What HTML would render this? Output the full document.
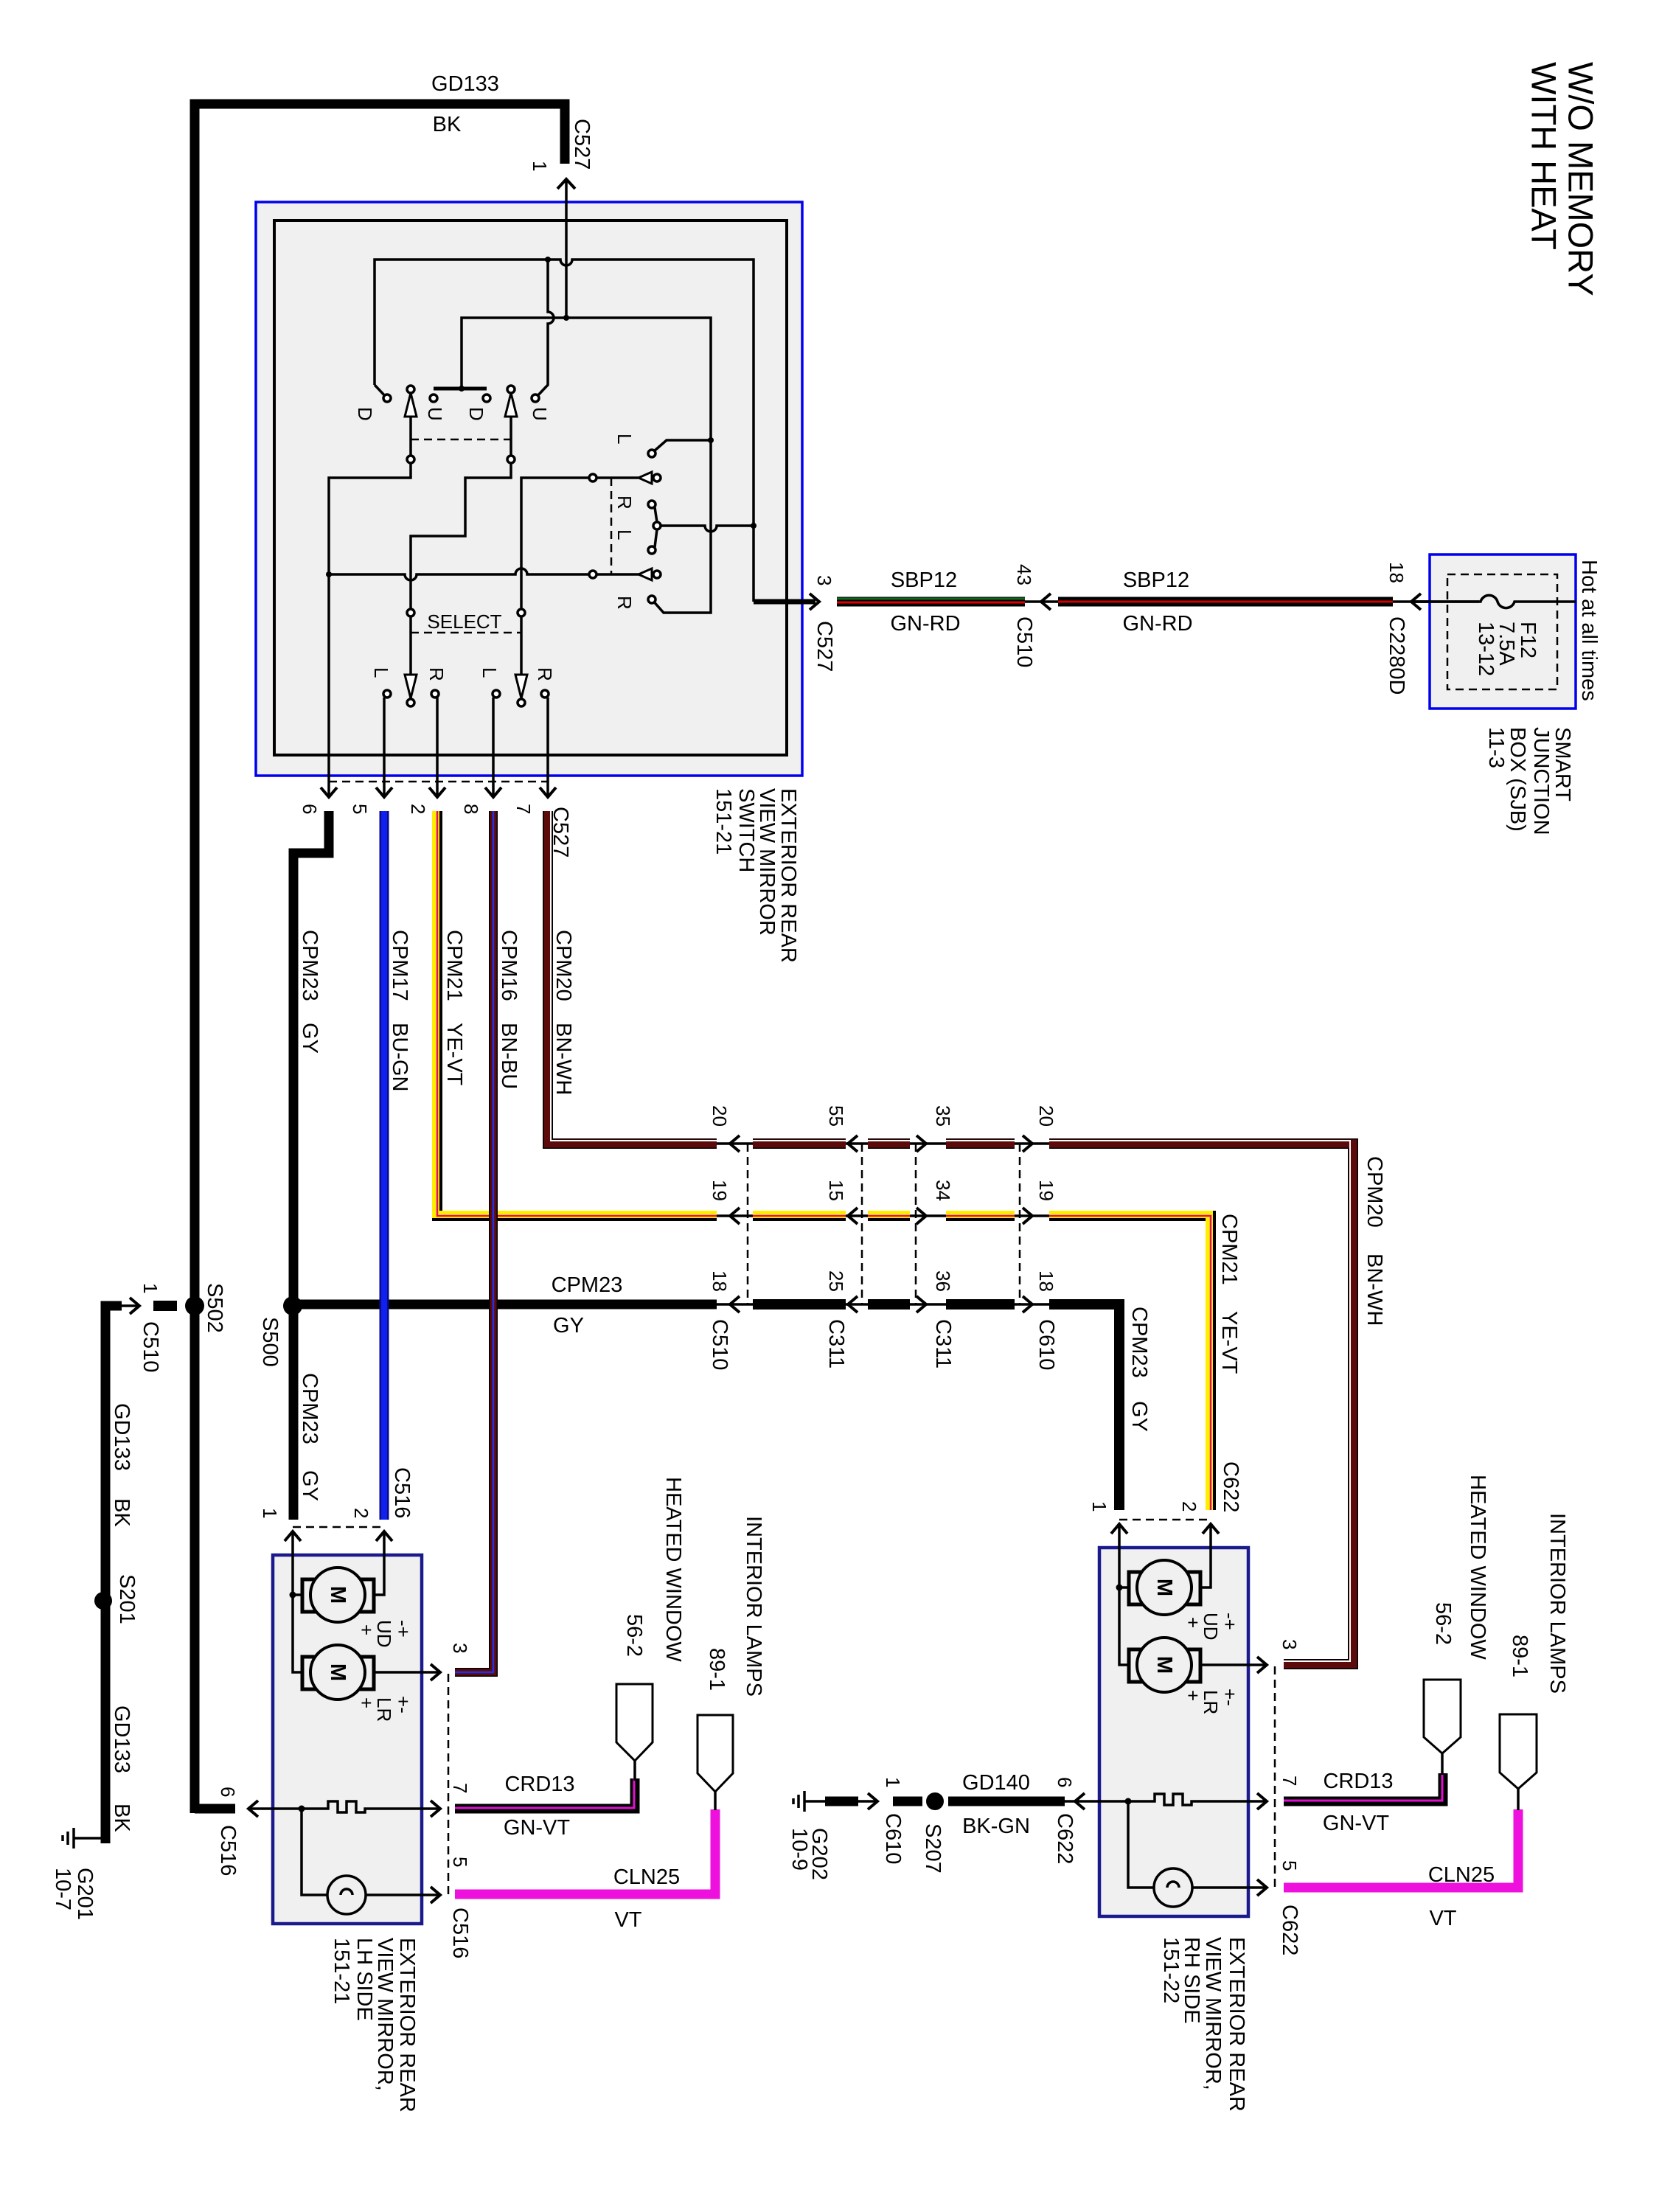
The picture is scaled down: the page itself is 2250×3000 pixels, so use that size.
<!DOCTYPE html>
<html><head><meta charset="utf-8"><style>
html,body{margin:0;padding:0;background:#fff}
svg{display:block}
text{font-family:"Liberation Sans",Arial,sans-serif;fill:#000;dominant-baseline:central}
.t{font-size:29px}.s{font-size:26px}.b{font-size:47px}
.w{fill:none;stroke-linejoin:miter;stroke-linecap:butt}
.th{fill:none;stroke:#000;stroke-width:3.5}
.ch{fill:none;stroke:#000;stroke-width:4}
.dash{fill:none;stroke:#000;stroke-width:2.5;stroke-dasharray:11 7}
.ct{fill:#fff;stroke:#000;stroke-width:3}
</style></head><body>
<svg width="2250" height="3000" viewBox="0 0 2250 3000" xmlns="http://www.w3.org/2000/svg">
<rect width="2250" height="3000" fill="#fff"/>
<defs>
<g id="mir">
<rect x="370" y="2109" width="202" height="500" fill="#f0f0f0" stroke="#1a1a8c" stroke-width="4.5"/>
<path class="dash" d="M397,2071 H521"/>
<path class="ch" d="M386,2090 L397,2077 L408,2090 M510,2090 L521,2077 L532,2090"/>
<path class="th" d="M397,2077 V2268 H410 M397,2163 H410 M521,2077 V2163 H507 M507,2268 H596"/>
<circle cx="397" cy="2163" r="4.5"/>
<path fill="none" stroke="#000" stroke-width="5" d="M410,2142 V2186 H507 V2142 Z M410,2247 V2291 H507 V2247 Z"/>
<circle cx="458" cy="2163" r="37" fill="#f0f0f0" stroke="#000" stroke-width="4"/>
<circle cx="458" cy="2268" r="37" fill="#f0f0f0" stroke="#000" stroke-width="4"/>
<text class="t" font-weight="bold" transform="translate(458 2163) rotate(90)" text-anchor="middle">M</text>
<text class="t" font-weight="bold" transform="translate(458 2268) rotate(90)" text-anchor="middle">M</text>
<text class="s" transform="translate(521 2197) rotate(90)">UD</text>
<text class="s" transform="translate(547 2197) rotate(90)">-+</text>
<text class="s" transform="translate(497 2203) rotate(90)">+</text>
<text class="s" transform="translate(521 2302) rotate(90)">LR</text>
<text class="s" transform="translate(547 2300) rotate(90)">+-</text>
<text class="s" transform="translate(497 2302) rotate(90)">+</text>
<path class="th" d="M338,2453 H445 V2443 H458 V2458 H470 V2443 H483 V2458 H495 V2453 H596 M409,2453 V2570 H444 M496,2570 H596"/>
<circle cx="409" cy="2453" r="4.5"/>
<circle cx="470" cy="2570" r="26" fill="#f0f0f0" stroke="#000" stroke-width="3.5"/>
<path class="th" d="M462,2570 a8,8 0 1 1 16,0"/>
<path class="ch" d="M350,2442 L337,2453 L350,2464 M584,2257 L597,2268 L584,2279 M584,2442 L597,2453 L584,2464 M584,2559 L597,2570 L584,2581"/>
<path class="dash" d="M608,2270 V2572"/>
</g>
</defs>

<!-- top ground wire -->
<path class="w" stroke="#000" stroke-width="13" d="M264,2459 V141 H766 V222"/>
<text class="t" x="631" y="114" text-anchor="middle">GD133</text>
<text class="t" x="606" y="169" text-anchor="middle">BK</text>
<text class="t" transform="translate(789 161) rotate(90)">C527</text>
<text class="s" transform="translate(732 218) rotate(90)">1</text>
<path class="ch" d="M756,256 L768,243 L780,256"/>

<!-- switch boxes -->
<rect x="347" y="274" width="741" height="778" fill="#f0f0f0" stroke="#0000ee" stroke-width="3.5"/>
<rect x="372" y="299" width="695" height="725" fill="none" stroke="#000" stroke-width="4"/>

<!-- internal switch wiring -->
<path class="th" d="M768,243 V431"/>
<path class="th" d="M508,522 V352 H760 a8,8 0 0 0 16,0 H1022 V816"/>
<path class="th" d="M508,522 L525,540"/>
<path class="th" d="M743,352 V423 a8,8 0 0 1 0,16 V522 L726,540"/>
<circle cx="743" cy="352" r="4"/><circle cx="768" cy="431" r="4"/>
<path class="th" d="M626,527 V431 H964 V831 H900 L884,813"/>
<path fill="none" stroke="#000" stroke-width="5" d="M588,527 H660"/>
<circle cx="626" cy="527" r="4"/>
<g fill="#fff" stroke="#000" stroke-width="3.5">
<circle cx="525" cy="540" r="5"/><circle cx="588" cy="540" r="5"/><circle cx="660" cy="540" r="5"/><circle cx="726" cy="540" r="5"/>
<circle cx="557" cy="528" r="5"/><circle cx="693" cy="528" r="5"/>
<circle cx="557" cy="623" r="5"/><circle cx="693" cy="623" r="5"/>
</g>
<path fill="#fff" stroke="#000" stroke-width="3" d="M557,533 L549,565 H565 Z M693,533 L685,565 H701 Z"/>
<path class="th" d="M557,565 V618 M693,565 V618"/>
<path class="dash" d="M557,596 H693"/>
<text class="s" transform="translate(495 552) rotate(90)">D</text>
<text class="s" transform="translate(590 552) rotate(90)">U</text>
<text class="s" transform="translate(646 552) rotate(90)">D</text>
<text class="s" transform="translate(732 552) rotate(90)">U</text>

<path class="th" d="M557,628 V648 H446 V1078"/>
<path class="th" d="M693,628 V648 H631 V727 H557 V826"/>
<path class="th" d="M446,779 H549 a8,8 0 0 0 16,0 H699 a8,8 0 0 1 16,0 H799"/>
<circle cx="446" cy="779" r="4"/>
<path class="th" d="M707,826 V648 H799"/>
<g fill="#fff" stroke="#000" stroke-width="3.5">
<circle cx="804" cy="648" r="5"/><circle cx="804" cy="779" r="5"/>
<circle cx="891" cy="648" r="5"/><circle cx="891" cy="779" r="5"/>
<circle cx="884" cy="615" r="5"/><circle cx="884" cy="684" r="5"/><circle cx="891" cy="713" r="5"/><circle cx="884" cy="746" r="5"/><circle cx="884" cy="813" r="5"/>
<circle cx="557" cy="831" r="5"/><circle cx="707" cy="831" r="5"/>
<circle cx="557" cy="953" r="5"/><circle cx="707" cy="953" r="5"/>
<circle cx="525" cy="941" r="5"/><circle cx="590" cy="941" r="5"/><circle cx="673" cy="941" r="5"/><circle cx="739" cy="941" r="5"/>
</g>
<path fill="#fff" stroke="#000" stroke-width="3" d="M866,648 L884,640 V656 Z M866,779 L884,771 V787 Z"/>
<path class="th" d="M809,648 H866 M809,779 H866"/>
<path class="dash" d="M829,648 V779"/>
<path class="th" d="M888,611 L904,597 H964"/>
<path class="th" d="M888,688 L891,708 M891,718 L888,742"/>
<path class="th" d="M896,713 H956 a8,8 0 0 0 16,0 H1022"/>
<circle cx="964" cy="597" r="4"/><circle cx="1022" cy="713" r="4"/>
<text class="s" transform="translate(847 588) rotate(90)">L</text>
<text class="s" transform="translate(847 672) rotate(90)">R</text>
<text class="s" transform="translate(847 718) rotate(90)">L</text>
<text class="s" transform="translate(847 808) rotate(90)">R</text>
<text class="s" x="630" y="843" text-anchor="middle">SELECT</text>
<path class="dash" d="M557,858 H707" stroke-dasharray="14 8 110 8"/>
<path class="th" d="M557,836 V920 M707,836 V920"/>
<path fill="#fff" stroke="#000" stroke-width="3" d="M557,947 L549,915 H565 Z M707,947 L699,915 H715 Z"/>
<text class="s" transform="translate(517 905) rotate(90)">L</text>
<text class="s" transform="translate(592 905) rotate(90)">R</text>
<text class="s" transform="translate(664 905) rotate(90)">L</text>
<text class="s" transform="translate(739 905) rotate(90)">R</text>
<path class="th" d="M521,946 V1078 M593,946 V1078 M669,946 V1078 M743,946 V1078"/>
<path class="dash" d="M446,1060 H743"/>
<path class="ch" d="M435,1068 L446,1081 L457,1068 M510,1068 L521,1081 L532,1068 M582,1068 L593,1081 L604,1068 M658,1068 L669,1081 L680,1068 M732,1068 L743,1081 L754,1068"/>
<text class="s" transform="translate(420 1090) rotate(90)">6</text>
<text class="s" transform="translate(488 1090) rotate(90)">5</text>
<text class="s" transform="translate(567 1090) rotate(90)">2</text>
<text class="s" transform="translate(639 1090) rotate(90)">8</text>
<text class="s" transform="translate(710 1090) rotate(90)">7</text>
<text class="t" transform="translate(760 1094) rotate(90)">C527</text>
<text class="t" transform="translate(1069 1069) rotate(90)">EXTERIOR REAR</text>
<text class="t" transform="translate(1040 1069) rotate(90)">VIEW MIRROR</text>
<text class="t" transform="translate(1012 1069) rotate(90)">SWITCH</text>
<text class="t" transform="translate(981 1069) rotate(90)">151-21</text>

<!-- SBP wire -->
<path class="w" stroke="#000" stroke-width="7" d="M1022,816 H1106"/>
<path class="ch" d="M1098,805 L1111,816 L1098,827"/>
<path class="w" stroke="#000" stroke-width="13" d="M1135,816 H1390"/>
<path class="w" stroke="#0a6a20" stroke-width="3" d="M1135,812 H1390"/>
<path class="w" stroke="#e00000" stroke-width="3" d="M1135,817 H1390"/>
<path class="w" stroke="#000" stroke-width="13" d="M1435,816 H1889"/>
<path class="w" stroke="#d00000" stroke-width="3" d="M1435,816 H1889"/>
<path class="th" d="M1390,816 H1435 M1889,816 H2137"/>
<path class="ch" d="M1425,805 L1412,816 L1425,827 M1927,805 L1914,816 L1927,827"/>
<text class="s" transform="translate(1118 780) rotate(90)">3</text>
<text class="t" transform="translate(1118 842) rotate(90)">C527</text>
<text class="t" x="1253" y="787" text-anchor="middle">SBP12</text>
<text class="t" x="1255" y="846" text-anchor="middle">GN-RD</text>
<text class="s" transform="translate(1389 765) rotate(90)">43</text>
<text class="t" transform="translate(1389 836) rotate(90)">C510</text>
<text class="t" x="1568" y="787" text-anchor="middle">SBP12</text>
<text class="t" x="1570" y="846" text-anchor="middle">GN-RD</text>
<text class="s" transform="translate(1894 762) rotate(90)">18</text>
<text class="t" transform="translate(1894 836) rotate(90)">C2280D</text>

<!-- SJB -->
<rect x="1939" y="752" width="198" height="209" fill="#f0f0f0" stroke="#0000ee" stroke-width="3.5"/>
<rect x="1963" y="779" width="149" height="156" class="dash"/>
<path class="th" d="M1914,816 H2008 a12,12 0 0 1 23,0 a12,12 0 0 0 23,0 H2137"/>
<path class="th" d="M1914,816 H2006" stroke="#f0f0f0" stroke-width="0"/>
<text class="t" transform="translate(2072 843) rotate(90)">F12</text>
<text class="t" transform="translate(2043 843) rotate(90)">7.5A</text>
<text class="t" transform="translate(2015 843) rotate(90)">13-12</text>
<text class="t" transform="translate(2155 759) rotate(90)">Hot at all times</text>
<text class="t" transform="translate(2119 986) rotate(90)">SMART</text>
<text class="t" transform="translate(2090 986) rotate(90)">JUNCTION</text>
<text class="t" transform="translate(2058 986) rotate(90)">BOX (SJB)</text>
<text class="t" transform="translate(2029 986) rotate(90)">11-3</text>
<text class="b" transform="translate(2144 84) rotate(90)">W/O MEMORY</text>
<text class="b" transform="translate(2094 84) rotate(90)">WITH HEAT</text>

<!-- harness wires from switch -->
<path class="w" stroke="#000" stroke-width="13" d="M446,1100 V1157 H398 V2061"/>
<path class="w" stroke="#000" stroke-width="13" d="M397,1769 H972"/>
<path class="w" stroke="#0a0a8a" stroke-width="13" d="M521,1100 V2061"/>
<path class="w" stroke="#1020ee" stroke-width="8" d="M521,1100 V2061"/>
<path class="w" stroke="#000" stroke-width="14" d="M593,1100 V1649 H972"/>
<path class="w" stroke="#ffee00" stroke-width="10" d="M591,1100 V1647 H972"/>
<path class="w" stroke="#e0106a" stroke-width="2.5" d="M593,1100 V1649 H972"/>
<path class="w" stroke="#000" stroke-width="12" d="M669,1100 V2268 H617"/>
<path class="w" stroke="#5c0a0a" stroke-width="9" d="M669,1100 V2268 H617"/>
<path class="w" stroke="#2030ee" stroke-width="2.5" d="M669,1100 V2268 H617"/>
<path class="w" stroke="#000" stroke-width="14" d="M743,1100 V1551 H972"/>
<path class="w" stroke="#5c0a0a" stroke-width="11" d="M743,1100 V1551 H972"/>
<path class="w" stroke="#fff" stroke-width="2" d="M747,1100 V1547 H972"/>
<text class="t" transform="translate(420 1261) rotate(90)">CPM23</text><text class="t" transform="translate(420 1387) rotate(90)">GY</text>
<text class="t" transform="translate(542 1261) rotate(90)">CPM17</text><text class="t" transform="translate(542 1387) rotate(90)">BU-GN</text>
<text class="t" transform="translate(616 1261) rotate(90)">CPM21</text><text class="t" transform="translate(616 1387) rotate(90)">YE-VT</text>
<text class="t" transform="translate(690 1261) rotate(90)">CPM16</text><text class="t" transform="translate(690 1387) rotate(90)">BN-BU</text>
<text class="t" transform="translate(764 1261) rotate(90)">CPM20</text><text class="t" transform="translate(764 1387) rotate(90)">BN-WH</text>

<!-- in-line connectors rows -->
<path class="th" d="M972,1551 H1021 M972,1649 H1021 M972,1769 H1021 M1147,1551 H1177 M1147,1649 H1177 M1147,1769 H1177 M1234,1551 H1283 M1234,1649 H1283 M1234,1769 H1283 M1376,1551 H1423 M1376,1649 H1423 M1376,1769 H1423"/>
<path class="w" stroke="#000" stroke-width="14" d="M1021,1551 H1147 M1177,1551 H1234 M1283,1551 H1376"/>
<path class="w" stroke="#5c0a0a" stroke-width="11" d="M1021,1551 H1147 M1177,1551 H1234 M1283,1551 H1376"/>
<path class="w" stroke="#fff" stroke-width="2" d="M1021,1547 H1147 M1177,1547 H1234 M1283,1547 H1376"/>
<path class="w" stroke="#000" stroke-width="14" d="M1021,1649 H1147 M1177,1649 H1234 M1283,1649 H1376"/>
<path class="w" stroke="#ffee00" stroke-width="10" d="M1021,1647 H1147 M1177,1647 H1234 M1283,1647 H1376"/>
<path class="w" stroke="#e0106a" stroke-width="2.5" d="M1021,1649 H1147 M1177,1649 H1234 M1283,1649 H1376"/>
<path class="w" stroke="#000" stroke-width="14" d="M1021,1769 H1147 M1177,1769 H1234 M1283,1769 H1376"/>
<path class="dash" d="M1014,1551 V1769 M1169,1551 V1769 M1242,1551 V1769 M1383,1551 V1769"/>
<path class="ch" d="M1003,1540 L990,1551 L1003,1562 M1003,1638 L990,1649 L1003,1660 M1003,1758 L990,1769 L1003,1780 M1163,1540 L1150,1551 L1163,1562 M1163,1638 L1150,1649 L1163,1660 M1163,1758 L1150,1769 L1163,1780 M1243,1540 L1256,1551 L1243,1562 M1243,1638 L1256,1649 L1243,1660 M1243,1758 L1256,1769 L1243,1780 M1387,1540 L1400,1551 L1387,1562 M1387,1638 L1400,1649 L1387,1660 M1387,1758 L1400,1769 L1387,1780"/>
<text class="s" transform="translate(976 1499) rotate(90)">20</text>
<text class="s" transform="translate(976 1600) rotate(90)">19</text>
<text class="s" transform="translate(976 1723) rotate(90)">18</text>
<text class="t" transform="translate(976 1789) rotate(90)">C510</text>
<text class="s" transform="translate(1134 1499) rotate(90)">55</text>
<text class="s" transform="translate(1134 1600) rotate(90)">15</text>
<text class="s" transform="translate(1134 1723) rotate(90)">25</text>
<text class="t" transform="translate(1134 1789) rotate(90)">C311</text>
<text class="s" transform="translate(1279 1499) rotate(90)">35</text>
<text class="s" transform="translate(1279 1600) rotate(90)">34</text>
<text class="s" transform="translate(1279 1723) rotate(90)">36</text>
<text class="t" transform="translate(1279 1789) rotate(90)">C311</text>
<text class="s" transform="translate(1419 1499) rotate(90)">20</text>
<text class="s" transform="translate(1419 1600) rotate(90)">19</text>
<text class="s" transform="translate(1419 1723) rotate(90)">18</text>
<text class="t" transform="translate(1419 1789) rotate(90)">C610</text>
<text class="t" x="796" y="1743" text-anchor="middle">CPM23</text>
<text class="t" x="771" y="1798" text-anchor="middle">GY</text>

<!-- RH harness -->
<path class="w" stroke="#000" stroke-width="14" d="M1423,1551 H1835 V2257 H1741"/>
<path class="w" stroke="#5c0a0a" stroke-width="11" d="M1423,1551 H1835 V2257 H1741"/>
<path class="w" stroke="#fff" stroke-width="2" d="M1423,1547 H1831 V2253 H1741"/>
<path class="w" stroke="#000" stroke-width="14" d="M1423,1649 H1642 V2048"/>
<path class="w" stroke="#ffee00" stroke-width="10" d="M1423,1647 H1640 V2048"/>
<path class="w" stroke="#e0106a" stroke-width="2.5" d="M1423,1649 H1642 V2048"/>
<path class="w" stroke="#000" stroke-width="14" d="M1423,1769 H1518 V2048"/>
<text class="t" transform="translate(1864 1568) rotate(90)">CPM20</text><text class="t" transform="translate(1864 1700) rotate(90)">BN-WH</text>
<text class="t" transform="translate(1667 1646) rotate(90)">CPM21</text><text class="t" transform="translate(1667 1778) rotate(90)">YE-VT</text>
<text class="t" transform="translate(1545 1772) rotate(90)">CPM23</text><text class="t" transform="translate(1545 1900) rotate(90)">GY</text>

<!-- left grounds -->
<circle cx="264" cy="1771" r="13"/><circle cx="397" cy="1771" r="13"/>
<path class="w" stroke="#000" stroke-width="14" d="M208,1771 H240"/>
<path class="w" stroke="#000" stroke-width="13" d="M143,2500 V1771 H165"/>
<path class="th" d="M150,1771 H188"/>
<path class="ch" d="M176,1760 L189,1771 L176,1782"/>
<text class="t" transform="translate(291 1740) rotate(90)">S502</text>
<text class="t" transform="translate(366 1786) rotate(90)">S500</text>
<text class="s" transform="translate(204 1740) rotate(90)">1</text>
<text class="t" transform="translate(204 1792) rotate(90)">C510</text>
<circle cx="140" cy="2171" r="12"/>
<text class="t" transform="translate(172 2135) rotate(90)">S201</text>
<text class="t" transform="translate(165 1903) rotate(90)">GD133</text><text class="t" transform="translate(165 2032) rotate(90)">BK</text>
<text class="t" transform="translate(165 2313) rotate(90)">GD133</text><text class="t" transform="translate(165 2446) rotate(90)">BK</text>
<path class="th" d="M137,2493 H100 M100,2479 V2507 M92,2484 V2502 M85,2489 V2497"/>
<text class="t" transform="translate(115 2533) rotate(90)">G201</text>
<text class="t" transform="translate(85 2533) rotate(90)">10-7</text>
<path class="w" stroke="#000" stroke-width="13" d="M264,2453 H319"/>
<text class="s" transform="translate(309 2423) rotate(90)">6</text>
<text class="t" transform="translate(309 2475) rotate(90)">C516</text>
<text class="t" transform="translate(420 1862) rotate(90)">CPM23</text><text class="t" transform="translate(420 1994) rotate(90)">GY</text>
<text class="t" transform="translate(545 1990) rotate(90)">C516</text>
<text class="s" transform="translate(366 2045) rotate(90)">1</text>
<text class="s" transform="translate(490 2045) rotate(90)">2</text>

<!-- LH mirror -->
<use href="#mir"/>
<text class="s" transform="translate(624 2228) rotate(90)">3</text>
<text class="s" transform="translate(624 2418) rotate(90)">7</text>
<text class="s" transform="translate(624 2518) rotate(90)">5</text>
<text class="t" transform="translate(624 2587) rotate(90)">C516</text>
<path class="w" stroke="#000" stroke-width="13" d="M617,2453 H861 V2412"/>
<path class="w" stroke="#e010d0" stroke-width="3" d="M617,2452 H860 V2412"/>
<path class="w" stroke="#ee10dd" stroke-width="13" d="M617,2569 H970 V2454"/>
<path class="ct" fill="#eee" d="M836,2284 H885 V2363 L861,2388 L836,2363 Z"/>
<path class="th" d="M861,2388 V2415"/>
<path class="ct" fill="#eee" d="M946,2326 H994 V2405 L970,2430 L946,2405 Z"/>
<path class="th" d="M970,2430 V2455"/>
<text class="t" x="732" y="2420" text-anchor="middle">CRD13</text>
<text class="t" x="728" y="2479" text-anchor="middle">GN-VT</text>
<text class="t" x="877" y="2546" text-anchor="middle">CLN25</text>
<text class="t" x="852" y="2604" text-anchor="middle">VT</text>
<text class="t" transform="translate(913 2003) rotate(90)">HEATED WINDOW</text>
<text class="t" transform="translate(860 2189) rotate(90)">56-2</text>
<text class="t" transform="translate(1022 2056) rotate(90)">INTERIOR LAMPS</text>
<text class="t" transform="translate(972 2235) rotate(90)">89-1</text>
<text class="t" transform="translate(552 2628) rotate(90)">EXTERIOR REAR</text>
<text class="t" transform="translate(522 2628) rotate(90)">VIEW MIRROR,</text>
<text class="t" transform="translate(494 2628) rotate(90)">LH SIDE</text>
<text class="t" transform="translate(463 2628) rotate(90)">151-21</text>

<!-- RH mirror -->
<use href="#mir" transform="translate(1121 -10)"/>
<text class="t" transform="translate(1669 1982) rotate(90)">C622</text>
<text class="s" transform="translate(1491 2036) rotate(90)">1</text>
<text class="s" transform="translate(1613 2036) rotate(90)">2</text>
<text class="s" transform="translate(1749 2223) rotate(90)">3</text>
<text class="s" transform="translate(1749 2408) rotate(90)">7</text>
<text class="s" transform="translate(1749 2523) rotate(90)">5</text>
<text class="t" transform="translate(1749 2583) rotate(90)">C622</text>
<path class="w" stroke="#000" stroke-width="13" d="M1741,2443 H1957 V2405"/>
<path class="w" stroke="#e010d0" stroke-width="3" d="M1741,2442 H1956 V2405"/>
<path class="w" stroke="#ee10dd" stroke-width="13" d="M1741,2560 H2059 V2454"/>
<path class="ct" fill="#eee" d="M1931,2278 H1981 V2356 L1956,2378 L1931,2356 Z"/>
<path class="th" d="M1956,2378 V2407"/>
<path class="ct" fill="#eee" d="M2034,2325 H2084 V2404 L2059,2426 L2034,2404 Z"/>
<path class="th" d="M2059,2426 V2455"/>
<text class="t" x="1842" y="2416" text-anchor="middle">CRD13</text>
<text class="t" x="1839" y="2473" text-anchor="middle">GN-VT</text>
<text class="t" x="1982" y="2543" text-anchor="middle">CLN25</text>
<text class="t" x="1957" y="2602" text-anchor="middle">VT</text>
<text class="t" transform="translate(2004 2000) rotate(90)">HEATED WINDOW</text>
<text class="t" transform="translate(1957 2173) rotate(90)">56-2</text>
<text class="t" transform="translate(2112 2052) rotate(90)">INTERIOR LAMPS</text>
<text class="t" transform="translate(2061 2217) rotate(90)">89-1</text>
<text class="t" transform="translate(1677 2627) rotate(90)">EXTERIOR REAR</text>
<text class="t" transform="translate(1645 2627) rotate(90)">VIEW MIRROR,</text>
<text class="t" transform="translate(1616 2627) rotate(90)">RH SIDE</text>
<text class="t" transform="translate(1588 2627) rotate(90)">151-22</text>

<!-- GD140 ground -->
<path class="w" stroke="#000" stroke-width="13" d="M1286,2443 H1444 M1211,2443 H1251 M1119,2443 H1164"/>
<path class="th" d="M1164,2443 H1190 M1444,2443 H1462"/>
<path class="ch" d="M1177,2432 L1190,2443 L1177,2454"/>
<circle cx="1268" cy="2443" r="12"/>
<path class="th" d="M1119,2443 H1091 M1091,2429 V2457 M1083,2434 V2452 M1076,2439 V2447"/>
<text class="t" x="1351" y="2418" text-anchor="middle">GD140</text>
<text class="t" x="1351" y="2477" text-anchor="middle">BK-GN</text>
<text class="s" transform="translate(1444 2410) rotate(90)">6</text>
<text class="t" transform="translate(1444 2459) rotate(90)">C622</text>
<text class="t" transform="translate(1265 2473) rotate(90)">S207</text>
<text class="s" transform="translate(1211 2410) rotate(90)">1</text>
<text class="t" transform="translate(1211 2459) rotate(90)">C610</text>
<text class="t" transform="translate(1111 2479) rotate(90)">G202</text>
<text class="t" transform="translate(1084 2479) rotate(90)">10-9</text>
</svg>
</body></html>
